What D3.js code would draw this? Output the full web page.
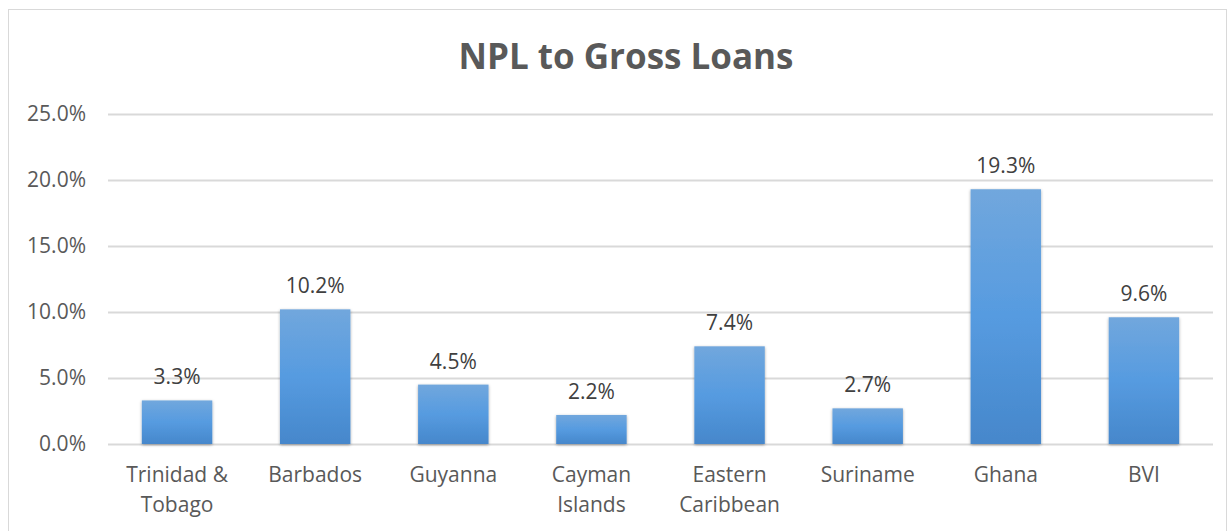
<!DOCTYPE html>
<html><head><meta charset="utf-8">
<script src="https://cdn.jsdelivr.net/npm/d3@7"></script>
<style>body{margin:0;background:#fff}svg{display:block}</style>
</head><body>
<script>
const categories = [["Trinidad &","Tobago"],["Barbados"],["Guyanna"],["Cayman","Islands"],["Eastern","Caribbean"],["Suriname"],["Ghana"],["BVI"]];
const values = [3.3, 10.2, 4.5, 2.2, 7.4, 2.7, 19.3, 9.6];
const yTicks = [0, 5, 10, 15, 20, 25];
const title = "NPL to Gross Loans";

const W = 1228, H = 531;
const m = {left:108, right:15, top:114, bottom:87};
const svg = d3.select("body").append("svg").attr("width", W).attr("height", H);
const font = "'Open Sans', 'Noto Sans', sans-serif";

svg.append("rect").attr("x",8.5).attr("y",9.5).attr("width",W-10).attr("height",H).attr("fill","#fff").attr("stroke","#d9d9d9");

const defs = svg.append("defs");
const g = defs.append("linearGradient").attr("id","bg").attr("x1",0).attr("y1",0).attr("x2",0).attr("y2",1);
g.append("stop").attr("offset","0%").attr("stop-color","#71a7dd");
g.append("stop").attr("offset","50%").attr("stop-color","#569be0");
g.append("stop").attr("offset","100%").attr("stop-color","#4687cb");
const f = defs.append("filter").attr("id","sh").attr("x","-20%").attr("y","-20%").attr("width","140%").attr("height","140%");
f.append("feDropShadow").attr("dx",0).attr("dy",1).attr("stdDeviation",1.6).attr("flood-color","#000").attr("flood-opacity",0.35);

const x = d3.scaleBand().domain(d3.range(categories.length)).range([m.left, W-m.right]).paddingInner(0.49).paddingOuter(0.245);
const y = d3.scaleLinear().domain([0,25]).range([H-m.bottom, m.top]);

const yAxis = svg.append("g").attr("transform",`translate(${m.left},0)`)
  .call(d3.axisLeft(y).tickValues(yTicks).tickSize(-(W-m.left-m.right)).tickPadding(22).tickFormat(d=>d.toFixed(1)+"%"));
yAxis.select(".domain").remove();
yAxis.selectAll(".tick line").attr("stroke","#d9d9d9").attr("stroke-width",2);
yAxis.selectAll(".tick text").attr("fill","#595959").attr("font-size","21px").attr("font-family",font);

svg.append("g").selectAll("rect").data(values).join("rect")
  .attr("x",(d,i)=>x(i)).attr("width",x.bandwidth())
  .attr("y",d=>y(d)).attr("height",d=>y(0)-y(d))
  .attr("fill","url(#bg)").attr("filter","url(#sh)");

svg.append("g").selectAll("text").data(values).join("text")
  .attr("x",(d,i)=>x(i)+x.bandwidth()/2).attr("y",d=>y(d)-16)
  .attr("text-anchor","middle").attr("fill","#404040").attr("font-size","21px").attr("font-family",font)
  .text(d=>d.toFixed(1)+"%");

const xl = svg.append("g").selectAll("text").data(categories).join("text")
  .attr("x",(d,i)=>x(i)+x.bandwidth()/2).attr("y",H-m.bottom+38)
  .attr("text-anchor","middle").attr("fill","#595959").attr("font-size","21px").attr("font-family",font);
xl.each(function(d,i){
  const t = d3.select(this);
  d.forEach((line,k)=>t.append("tspan").attr("x",x(i)+x.bandwidth()/2).attr("dy",k?30:0).text(line));
});

svg.append("text").attr("x",626).attr("y",69).attr("text-anchor","middle")
  .attr("fill","#595959").attr("font-size","35px").attr("font-weight","bold").attr("font-family",font).text(title);
</script>
</body></html>
